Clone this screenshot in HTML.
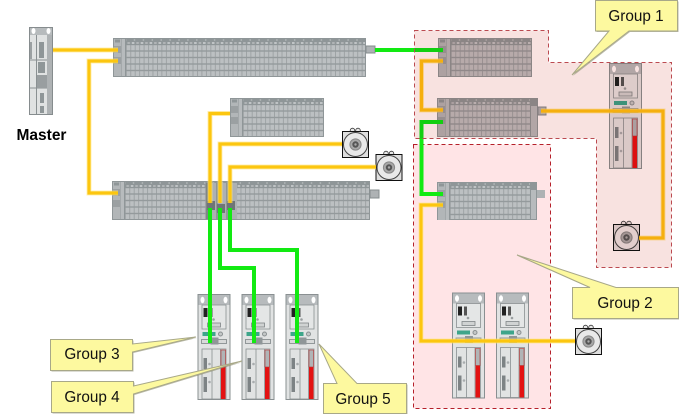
<!DOCTYPE html>
<html><head><meta charset="utf-8"><style>
html,body{margin:0;padding:0;background:#fff}
svg{display:block}
text{font-family:"Liberation Sans",Arial,sans-serif}
</style></head><body>
<svg width="679" height="414" viewBox="0 0 679 414" xmlns="http://www.w3.org/2000/svg">
<defs>
<pattern id="term" width="4.45" height="6.5" patternUnits="userSpaceOnUse">
<rect width="4.45" height="6.5" fill="#949a9c"/><rect x=".3" y=".7" width="3.7" height="5.1" fill="#bcc0c2"/>
</pattern>
<pattern id="dots" width="8.9" height="6" patternUnits="userSpaceOnUse">
<rect width="8.9" height="6" fill="#8f9698"/><rect x="1" y="4" width="2.6" height="2" fill="#c0c4c6"/><rect x="5.5" y="4" width="2.6" height="2" fill="#b0b4b6"/><rect x="3" y="1.5" width="1.4" height="1" fill="#c8cccc"/>
</pattern>
<g id="left">
<rect x="1" y="1" width="7" height="37" fill="#b2b6b8"/>
<rect x="2" y="1.5" width="5" height="3" fill="#8f9698"/>
<rect x="1" y="8" width="7" height="7" fill="#9ba0a2"/>
<rect x="1" y="19" width="7" height="7" fill="#9ba0a2"/>
<rect x="8.5" y="1" width="3.5" height="37" fill="#b7bbbd"/>
</g>
<g id="drive">
<rect x=".5" y=".5" width="32" height="105" fill="#e1e3e3" stroke="#8a9092"/>
<rect x="1" y="1" width="31" height="10" fill="#b7bbbd"/>
<ellipse cx="5" cy="6" rx="2" ry="3.2" fill="#fff"/><ellipse cx="28" cy="6" rx="2" ry="3.2" fill="#fff"/>
<rect x="4.5" y="11" width="24" height="24" fill="#e4e6e6" stroke="#8a9092" stroke-width=".8"/>
<rect x="6" y="14" width="4" height="9" fill="#222"/><rect x="12" y="14" width="3" height="9" fill="#555"/>
<circle cx="16" cy="25.5" r="1.3" fill="#9a9fa0"/>
<rect x="10" y="29" width="13" height="4" fill="#d0d3d3" stroke="#7f8587" stroke-width=".8"/>
<rect x="5" y="38" width="13" height="4" fill="#3ea58a"/>
<circle cx="23" cy="40" r="2" fill="#c4c8c8" stroke="#8a9092"/>
<rect x="4" y="45.5" width="25" height="4" fill="#d8dada" stroke="#7f8587" stroke-width=".8"/>
<rect x="13" y="43.5" width="8" height="7" fill="#8f9698"/>
<rect x="4.5" y="55" width="24" height="50" fill="#e1e3e3" stroke="#8a9092" stroke-width=".8"/>
<path d="M14.5 55V105M23 55V105" stroke="#8a9092" stroke-width=".8" fill="none"/>
<rect x="23.5" y="56" width="4.5" height="49" fill="#e31212"/>
<rect x="23.5" y="56" width="4.5" height="17" fill="#b0b4b6" stroke="#b33" stroke-width=".6"/>
<rect x="6" y="64" width="3.5" height="11" fill="#7d8385"/><rect x="6" y="83" width="3.5" height="15" fill="#7d8385"/>
<circle cx="12" cy="70" r="1.3" fill="#a8acae"/><circle cx="12" cy="88" r="1.3" fill="#a8acae"/>
</g>
<g id="motor">
<circle cx="10.5" cy="-.5" r="2.3" fill="#e8e8e8" stroke="#333" stroke-width=".8"/>
<circle cx="16" cy="-.5" r="2.3" fill="#e8e8e8" stroke="#333" stroke-width=".8"/>
<rect x=".5" y=".5" width="26" height="26" fill="#dedede" stroke="#111"/>
<circle cx="13.5" cy="13.5" r="12" fill="#e9e9e9" stroke="#444"/>
<circle cx="13.5" cy="13.5" r="5.6" fill="#a8a8a8" stroke="#888"/>
<circle cx="13.5" cy="13.5" r="3.2" fill="#555"/>
<circle cx="13.5" cy="13.5" r="1.2" fill="#aaa"/>
</g>
<g id="yw">
<path d="M53 50H118"/>
<path d="M118 61H89V193H118"/>
<path d="M230 113.500H210V203"/>
<path d="M342 144H220V203"/>
<path d="M376 167H230V203"/>
<path d="M443 61H421.500V110H443"/>
<path d="M443 205H421V341H575"/>
<path d="M541 111H663V238H639"/>
</g>
<g id="gw">
<path d="M375 50H443"/>
<path d="M443 122H421.500V194H443"/>
<path d="M210 208V343"/>
<path d="M220 208V268H254V343"/>
<path d="M230 208V250H297V343"/>
</g>
<g id="calls">
<path d="M595.500 .5H677.500V31H629L572 75L609 31H595.500Z"/>
<path d="M572.500 287.500H590L517 255L616 287.500H678.500V318.500H572.500Z"/>
<path d="M50.500 339.500H132.500V344L196 337L132.500 352V370.500H50.500Z"/>
<path d="M51.500 381.500H133.500V386L242 361L133.500 394V412.500H51.500Z"/>
<path d="M323.500 383.500H337L319 344L357 383.500H406.500V413.500H323.500Z"/>
</g>
</defs>

<rect width="679" height="414" fill="#fff"/>
<rect x="413.500" y="144.500" width="137" height="264" fill="#ffe4e6" stroke="#b5202a" stroke-dasharray="4 3"/>

<!-- master -->
<g transform="translate(29,27)">
<rect x=".5" y=".5" width="23" height="87" fill="#e0e2e2" stroke="#868c8e"/>
<rect x="1" y="1" width="22" height="7" fill="#b7bbbd"/>
<ellipse cx="4.500" cy="4" rx="2" ry="3" fill="#fff"/><ellipse cx="19.500" cy="4" rx="2" ry="3" fill="#fff"/>
<rect x="18" y="8" width="5" height="79" fill="#aeb2b4"/>
<path d="M7.500 8V87M1 33H18M1 61H18" stroke="#8a9092" fill="none"/>
<rect x="10" y="15" width="5" height="16" fill="#8f9698"/>
<rect x="9" y="35" width="7" height="11" fill="#8f9698"/>
<rect x="8" y="48" width="10" height="13" fill="#999ea0"/>
<rect x="11" y="66" width="4" height="10" fill="#8f9698"/>
<rect x="11" y="79" width="4" height="7" fill="#8f9698"/>
<rect x="1" y="15" width="2" height="17" fill="#9ba0a2"/>
</g>
<text x="16.500" y="140" font-size="15.500" font-weight="bold" fill="#000">Master</text>

<!-- rack 1 -->
<g transform="translate(113,38)">
<rect width="253" height="39" fill="#8f9698"/><rect x="13" y="1" width="239" height="6" fill="url(#dots)"/>
<rect x="13" y="7" width="239" height="31" fill="url(#term)"/><use href="#left"/>
<rect x="253" y="8" width="9" height="7" fill="#aeb2b4" stroke="#868c8e"/>
</g>
<!-- rack 2 -->
<g transform="translate(230,98)">
<rect width="94" height="39" fill="#8f9698"/><rect x="13" y="1" width="80" height="6" fill="url(#dots)"/>
<rect x="13" y="7" width="80" height="31" fill="url(#term)"/><use href="#left"/>
</g>
<!-- rack 3 -->
<g transform="translate(112,181)">
<rect width="258" height="39" fill="#8f9698"/><rect x="13" y="1" width="244" height="6" fill="url(#dots)"/>
<rect x="13" y="7" width="244" height="31" fill="url(#term)"/><use href="#left"/>
<rect x="94" y="2" width="31" height="36" fill="#adb1b3"/>
<rect x="94" y="2" width="2" height="36" fill="#7f8587"/><rect x="104" y="2" width="2" height="36" fill="#8f9698"/><rect x="114" y="2" width="2" height="36" fill="#8f9698"/>
<rect x="95" y="20" width="8" height="9" fill="#6f7577"/><rect x="105" y="23" width="8" height="9" fill="#6f7577"/><rect x="115" y="20" width="8" height="9" fill="#6f7577"/>
<rect x="258" y="9" width="9" height="8" fill="#aeb2b4" stroke="#868c8e"/>
</g>
<!-- group 1 racks -->
<g transform="translate(438,38)">
<rect width="94" height="39" fill="#8f9698"/><rect x="13" y="1" width="80" height="6" fill="url(#dots)"/>
<rect x="13" y="7" width="80" height="31" fill="url(#term)"/><use href="#left"/>
</g>
<g transform="translate(437,98)">
<rect width="101" height="39" fill="#8f9698"/><rect x="13" y="1" width="80" height="6" fill="url(#dots)"/>
<rect x="13" y="7" width="80" height="31" fill="url(#term)"/><use href="#left"/>
<rect x="94" y="8" width="6" height="30" fill="#b7bbbd"/>
<rect x="101" y="9" width="8" height="8" fill="#aeb2b4" stroke="#868c8e"/>
</g>
<g transform="translate(437,182)">
<rect width="100" height="38" fill="#8f9698"/><rect x="13" y="1" width="80" height="6" fill="url(#dots)"/>
<rect x="13" y="7" width="80" height="30" fill="url(#term)"/><use href="#left"/>
<rect x="94" y="8" width="5" height="29" fill="#b7bbbd"/>
<rect x="100" y="8" width="8" height="8" fill="#aeb2b4"/>
</g>

<!-- drives -->
<use href="#drive" x="197.500" y="294"/>
<use href="#drive" x="241.500" y="294"/>
<use href="#drive" x="285.500" y="294"/>
<use href="#drive" x="452" y="292.500"/>
<use href="#drive" x="496" y="292.500"/>
<use href="#drive" x="609" y="63"/>

<!-- motors -->
<use href="#motor" x="342" y="131"/>
<use href="#motor" x="375.500" y="154"/>
<use href="#motor" x="613" y="224"/>
<use href="#motor" x="575" y="328"/>

<!-- wires -->
<use href="#yw" fill="none" stroke="#ffe680" stroke-width="5" opacity=".6"/>
<use href="#yw" fill="none" stroke="#fcc60f" stroke-width="3.200"/>
<use href="#gw" fill="none" stroke="#12ea12" stroke-width="4"/>

<!-- group 1 tint -->
<path d="M414.500 30.500H548.500V62.500H671.500V267.500H596.500V138.500H414.500Z" fill="#f8e2e0" style="mix-blend-mode:multiply"/>
<path d="M414.500 30.500H548.500V62.500H671.500V267.500H596.500V138.500H414.500Z" fill="none" stroke="#bb4a50" stroke-dasharray="4 3"/>

<!-- callouts -->
<use href="#calls" x="1" y="1" fill="#8c8c70" stroke="none" opacity=".6"/>
<use href="#calls" fill="#fdf99f" stroke="#a8a888"/>
<g font-size="15.300" fill="#111" text-anchor="middle">
<text x="636" y="21">Group 1</text>
<text x="625" y="308">Group 2</text>
<text x="92" y="359">Group 3</text>
<text x="92" y="402">Group 4</text>
<text x="363" y="404">Group 5</text>
</g>
</svg>
</body></html>
